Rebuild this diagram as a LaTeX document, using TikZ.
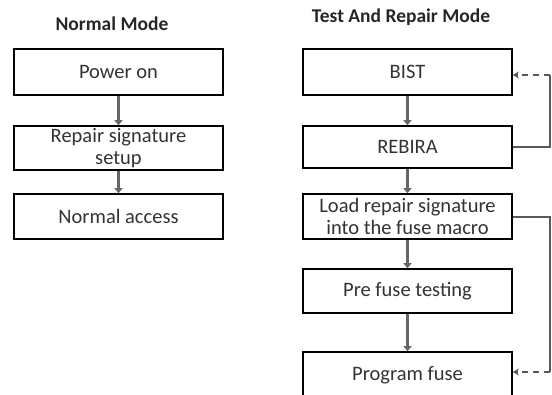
\documentclass[tikz,border=0pt]{standalone}
\usepackage{fontspec}
\setmainfont{Carlito}
\usetikzlibrary{arrows.meta}
\begin{document}
\begin{tikzpicture}[x=1pt,y=-1pt,
  stepbox/.style={draw=black,line width=1.6pt,fill=white,minimum width=209pt,
    inner sep=0pt,align=center,font=\fontsize{20.5}{22}\selectfont,text=black!80},
  title/.style={font=\bfseries\fontsize{19.5}{20}\selectfont,text=black!85},
  flow/.style={draw=black!60,line width=2.4pt,-{Triangle[length=5pt,width=8pt]}},
  fb/.style={draw=black!65,line width=1.4pt},
  fbd/.style={draw=black!65,line width=1.4pt,dash pattern=on 6pt off 5pt,
    -{Stealth[length=6pt,width=7pt]}}]
\useasboundingbox (0,0) rectangle (552,394);
\clip (0,0) rectangle (552,394);
% titles
\node[title] (tn) at (112,24) {Normal Mode};
\node[title] (tt) at (401,17) {Test And Repair Mode};
% normal mode flow
\node[stepbox,minimum height=46pt] (pwr) at (118.5,72) {Power on};
\node[stepbox,minimum height=44pt] (rss) at (118.5,148) {Repair signature\\setup};
\node[stepbox,minimum height=45pt] (nac) at (118.5,216.5) {Normal access};
% test and repair flow
\node[stepbox,minimum height=46pt] (bist) at (407.5,72) {BIST};
\node[stepbox,minimum height=42pt] (rebira) at (407.5,147) {REBIRA};
\node[stepbox,minimum height=45pt] (load) at (407.5,216.5) {Load repair signature\\into the fuse macro};
\node[stepbox,minimum height=44pt] (pre) at (407.5,291) {Pre fuse testing};
\node[stepbox,minimum height=46pt] (prog) at (407.5,375) {Program fuse};
% forward arrows
\draw[flow] (pwr) -- (rss);
\draw[flow] (rss) -- (nac);
\draw[flow] (bist) -- (rebira);
\draw[flow] (rebira) -- (load);
\draw[flow] (load) -- (pre);
\draw[flow] (pre) -- (prog);
% feedback loops
\coordinate (r1) at (550,147);
\coordinate (r2) at (550,75);
\draw[fb] (rebira.east) -- (r1) -- (r2);
\draw[fbd] (r2) -- (bist.east |- r2);
\coordinate (l1) at (550,217);
\coordinate (l2) at (550,372);
\draw[fb] (load.east |- l1) -- (l1) -- (l2);
\draw[fbd] (l2) -- (prog.east |- l2);
\end{tikzpicture}
\end{document}
